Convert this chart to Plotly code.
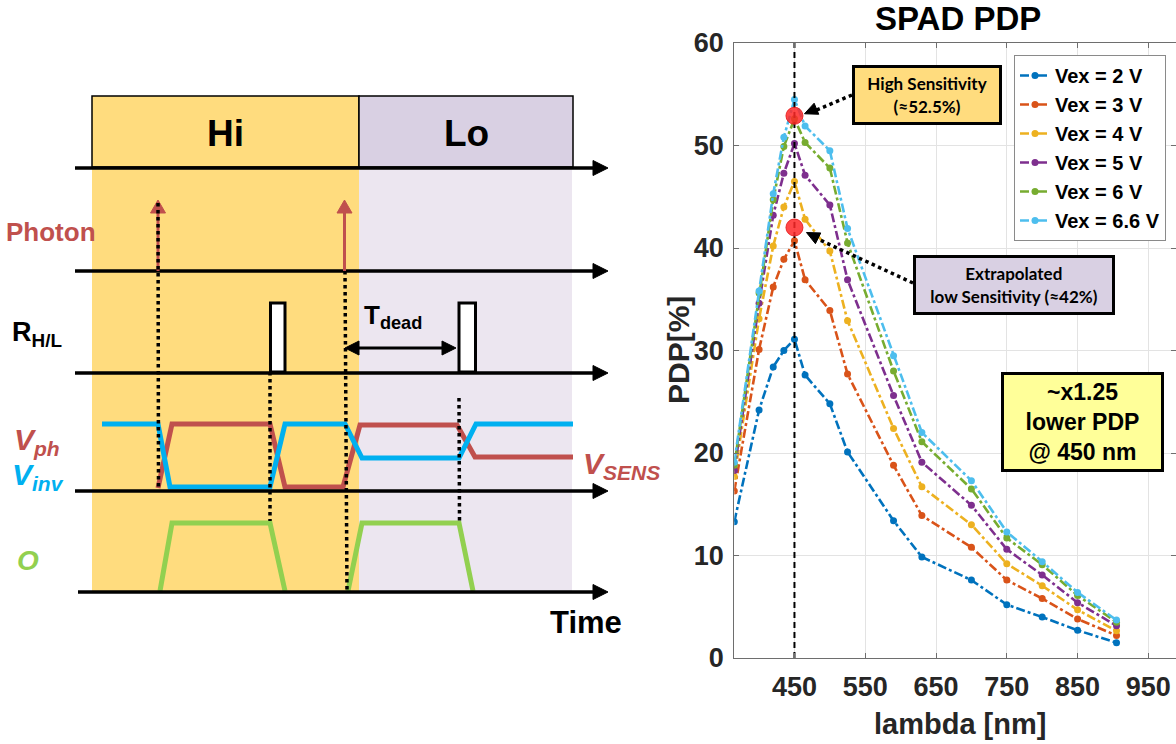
import plotly.graph_objects as go

# ================= DATA =================
wavelength_nm = [365, 400, 420, 435, 450, 465, 500, 525, 590, 630, 700, 750, 800, 850, 905]
series_names = ["Vex = 2 V", "Vex = 3 V", "Vex = 4 V", "Vex = 5 V", "Vex = 6 V", "Vex = 6.6 V"]
pdp_vex_2 = [13.3, 24.2, 28.4, 30.0, 31.1, 27.6, 24.8, 20.1, 13.4, 9.85, 7.6, 5.2, 4.0, 2.7, 1.5]
pdp_vex_3 = [16.3, 30.1, 36.2, 38.9, 40.7, 36.9, 33.9, 27.7, 18.8, 13.9, 10.8, 7.6, 5.8, 3.8, 2.2]
pdp_vex_4 = [17.7, 33.1, 40.2, 44.0, 46.5, 42.8, 39.7, 32.9, 22.4, 16.7, 13.0, 9.2, 7.05, 4.7, 2.65]
pdp_vex_5 = [18.3, 34.6, 43.2, 47.3, 50.2, 47.1, 44.2, 36.9, 25.6, 19.1, 14.9, 10.6, 8.1, 5.4, 3.15]
pdp_vex_6 = [18.8, 35.6, 44.7, 49.9, 52.6, 50.3, 47.8, 40.5, 28.0, 21.1, 16.5, 11.7, 9.1, 6.1, 3.5]
pdp_vex_66 = [19.1, 35.8, 45.3, 50.8, 54.5, 51.9, 49.5, 41.9, 29.5, 22.0, 17.3, 12.3, 9.4, 6.4, 3.7]
series_values = [pdp_vex_2, pdp_vex_3, pdp_vex_4, pdp_vex_5, pdp_vex_6, pdp_vex_66]
highlight_lambda = [450, 450]
highlight_pdp = [52.9, 42.0]
ref_lambda = 450
x_tick_vals = [450, 550, 650, 750, 850, 950]
y_tick_vals = [0, 10, 20, 30, 40, 50, 60]

# ================= STYLE / LAYOUT =================
W, H = 1176, 744
colors = ["#0072BD", "#D95319", "#EDB120", "#7E2F8E", "#77AC30", "#4DBEEE"]
AX_L, AX_R, AX_T, AX_B = 734.3, 1176.0, 43.0, 658.0
PX_PER_NM = 0.7078
X_RANGE = [365, 365 + (AX_R - AX_L) / PX_PER_NM]
Y_RANGE = [0, 60]
ARIAL = "Liberation Sans, Arial, sans-serif"
CAL = "Lato, Carlito, sans-serif"
RED = "#C0504D"
BLUE = "#00B0F0"
GREEN = "#92D050"
HI_FILL = "#FFDC7E"
LO_HEAD = "#D9D0E3"
LO_BODY = "#ECE6F0"


def px(lam):
    return AX_L + (lam - X_RANGE[0]) / (X_RANGE[1] - X_RANGE[0]) * (AX_R - AX_L)


def py(v):
    return AX_B - (v - Y_RANGE[0]) / (Y_RANGE[1] - Y_RANGE[0]) * (AX_B - AX_T)


fig = go.Figure()

# ---- PDP series ----
for i, (name, vals) in enumerate(zip(series_names, series_values)):
    fig.add_trace(go.Scatter(
        x=wavelength_nm, y=vals, name=name, mode="lines+markers",
        line=dict(color=colors[i], width=2.6, dash="9px,3px,3px,3px"),
        marker=dict(color=colors[i], size=7),
        legendgroup=f"g{i}", xaxis="x", yaxis="y"))

# dashed reference line at 450 nm
fig.add_trace(go.Scatter(x=[ref_lambda, ref_lambda], y=Y_RANGE, mode="lines",
                         line=dict(color="black", width=2, dash="6px,4px"),
                         showlegend=False, hoverinfo="skip", xaxis="x", yaxis="y"))
# highlighted points
fig.add_trace(go.Scatter(x=highlight_lambda, y=highlight_pdp, mode="markers",
                         marker=dict(color="rgba(255,40,40,0.85)", size=17,
                                     line=dict(color="rgba(230,30,30,0.9)", width=1)),
                         showlegend=False, hoverinfo="skip", xaxis="x", yaxis="y"))

# ================= TIMING DIAGRAM (pixel space overlay) =================
red_x = [158, 172, 270, 285, 343, 360, 457, 475, 573]
red_y = [488, 424, 424, 487, 487, 425, 425, 457, 457]
blue_x = [102, 158, 170, 270, 285, 345, 362, 459, 476, 573]
blue_y = [424, 424, 487, 487, 424, 424, 458, 458, 424, 424]
green_x = [160, 172, 270, 285, None, 348, 362, 459, 473]
green_y = [591, 523, 523, 591, None, 591, 523, 523, 591]

for xs, ys, c in [(red_x, red_y, RED), (blue_x, blue_y, BLUE), (green_x, green_y, GREEN)]:
    fig.add_trace(go.Scatter(x=xs, y=ys, mode="lines", line=dict(color=c, width=5),
                             showlegend=False, hoverinfo="skip", xaxis="x3", yaxis="y3",
                             connectgaps=False))

shapes = []


def rect(x0, y0, x1, y1, fill, lc=None, lw=0, layer="below"):
    shapes.append(dict(type="rect", xref="x3", yref="y3", x0=x0, y0=y0, x1=x1, y1=y1,
                       fillcolor=fill, line=dict(color=lc or fill, width=lw), layer=layer))


def line(x0, y0, x1, y1, color="black", width=3, dash="solid"):
    shapes.append(dict(type="line", xref="x3", yref="y3", x0=x0, y0=y0, x1=x1, y1=y1,
                       line=dict(color=color, width=width, dash=dash), layer="above"))


def head(tx, ty, dx, dy, L=14, Wd=14, color="black"):
    n = (dx * dx + dy * dy) ** 0.5
    ux, uy = dx / n, dy / n
    bx, by = tx - ux * L, ty - uy * L
    nx, ny = -uy, ux
    p1 = (bx + nx * Wd / 2, by + ny * Wd / 2)
    p2 = (bx - nx * Wd / 2, by - ny * Wd / 2)
    path = f"M {tx},{ty} L {p1[0]},{p1[1]} L {p2[0]},{p2[1]} Z"
    shapes.append(dict(type="path", xref="x3", yref="y3", path=path, fillcolor=color,
                       line=dict(color=color, width=1), layer="above"))


# backgrounds
rect(92, 167, 359, 592, HI_FILL)
rect(359, 167, 572, 592, LO_BODY)
rect(92, 96, 359, 167, HI_FILL, "black", 1.5)
rect(359, 96, 573, 167, LO_HEAD, "black", 1.5)

# time axes
for yb, x0 in [(168, 75), (271, 75), (373, 75), (491, 75), (592, 78)]:
    line(x0, yb, 596, yb, width=3.5)
    head(608, yb, 1, 0, L=15, Wd=15)

# photon arrows
line(158, 271, 158, 212, color=RED, width=3)
head(158, 200, 0, -1, L=13, Wd=15, color=RED)
line(344.5, 271, 344.5, 212, color=RED, width=3)
head(344.5, 200, 0, -1, L=13, Wd=15, color=RED)

# dotted event lines
line(158, 203, 158.5, 491, dash="dot", width=3.5)
line(345, 271, 347, 592, dash="dot", width=3.5)
line(270, 372, 270, 521, dash="dot", width=3.5)
line(459, 398, 459.5, 521, dash="dot", width=3.5)

# reset pulses
rect(270.5, 303, 285, 372, "white", "black", 3, layer="above")
rect(459, 303, 475.5, 372, "white", "black", 3, layer="above")

# T_dead double arrow
line(356, 348, 444, 348, width=3)
head(345, 348, -1, 0, L=14, Wd=14)
head(456, 348, 1, 0, L=14, Wd=14)

# PDP call-out dotted arrows (pixel space computed from data scale)
hx, hy = px(highlight_lambda[0]), py(highlight_pdp[0])
lx, ly = px(highlight_lambda[1]), py(highlight_pdp[1])
line(852, 95, hx + 18, hy - 4, dash="dot", width=3.5)
head(hx + 10, hy - 2, -1, 0.42, L=13, Wd=12)
line(913, 283, lx + 20, ly + 10, dash="dot", width=3.5)
head(lx + 12, ly + 5, -1, -0.5, L=13, Wd=12)

annotations = []


def text(x, y, t, size, color="black", family=ARIAL, xanchor="center", yanchor="middle", **kw):
    annotations.append(dict(x=x, y=y, xref="x3", yref="y3", text=t, showarrow=False,
                            font=dict(size=size, color=color, family=family),
                            xanchor=xanchor, yanchor=yanchor, **kw))


text(225, 133, "<b>Hi</b>", 37)
text(466, 133, "<b>Lo</b>", 37)
text(51, 232, "<b>Photon</b>", 26, RED)
text(10, 334, "<b>R<sub>H/L</sub></b>", 27, xanchor="left")
text(12, 441, "<b><i>V<sub>ph</sub></i></b>", 30, RED, xanchor="left")
text(10, 476, "<b><i>V<sub>inv</sub></i></b>", 30, BLUE, xanchor="left")
text(28, 560, "<b><i>O</i></b>", 28, GREEN)
text(581, 465, "<b><i>V<sub>SENS</sub></i></b>", 30, RED, xanchor="left")
text(586, 622, "<b>Time</b>", 31)
text(362, 316, "<b>T<sub>dead</sub></b>", 26, xanchor="left")

# chart texts
text(958, 18, "<b>SPAD PDP</b>", 33, "black")
text(960, 724, "<b>lambda [nm]</b>", 29, "#262626")
text(678, 350, "<b>PDP[%]</b>", 30, "#262626", textangle=-90)

# call-out boxes
annotations.append(dict(x=927, y=95, xref="x3", yref="y3", showarrow=False,
                        text="<b>High Sensitivity<br>(≈52.5%)</b>",
                        font=dict(size=17, color="black", family=CAL),
                        bgcolor=HI_FILL, bordercolor="black", borderwidth=3, borderpad=3,
                        width=138, height=48, align="center"))
annotations.append(dict(x=1014, y=285, xref="x3", yref="y3", showarrow=False,
                        text="<b>Extrapolated<br>low Sensitivity (≈42%)</b>",
                        font=dict(size=17, color="black", family=CAL),
                        bgcolor=LO_HEAD, bordercolor="black", borderwidth=3, borderpad=3,
                        width=190, height=48, align="center"))
annotations.append(dict(x=1082, y=422, xref="x3", yref="y3", showarrow=False,
                        text="<b>~x1.25<br>lower PDP<br>@ 450 nm</b>",
                        font=dict(size=23, color="black", family=ARIAL),
                        bgcolor="#FFFF99", bordercolor="black", borderwidth=3, borderpad=3,
                        width=151, height=88, align="center"))

axis_common = dict(showgrid=True, gridcolor="#E3E3E3", gridwidth=1, zeroline=False,
                   showline=True, linecolor="#6E6E6E", linewidth=1, mirror="ticks",
                   ticks="inside", ticklen=5, tickcolor="#6E6E6E", automargin=False,
                   tickfont=dict(family=ARIAL, size=27, color="#262626", weight="bold"))

fig.update_layout(
    width=W, height=H,
    margin=dict(l=0, r=0, t=0, b=0, autoexpand=False),
    paper_bgcolor="white", plot_bgcolor="rgba(0,0,0,0)",
    shapes=shapes, annotations=annotations,
    xaxis=dict(domain=[AX_L / W, AX_R / W], range=X_RANGE, tickvals=x_tick_vals,
               anchor="y", ticklabelstandoff=5, **axis_common),
    yaxis=dict(domain=[1 - AX_B / H, 1 - AX_T / H], range=Y_RANGE, tickvals=y_tick_vals,
               anchor="x", ticklabelstandoff=4, **axis_common),
    xaxis3=dict(domain=[0, 1], range=[0, W], visible=False, anchor="y3", fixedrange=True,
                automargin=False),
    yaxis3=dict(domain=[0, 1], range=[H, 0], visible=False, anchor="x3", fixedrange=True,
                automargin=False),
    legend=dict(x=1014 / W, y=1 - 55 / H, xanchor="left", yanchor="top",
                bgcolor="white", bordercolor="#8A8A8A", borderwidth=1,
                font=dict(family=ARIAL, size=20, color="black", weight="bold"),
                tracegroupgap=0, itemwidth=30),
    showlegend=True,
)

fig.write_html("out.html")
